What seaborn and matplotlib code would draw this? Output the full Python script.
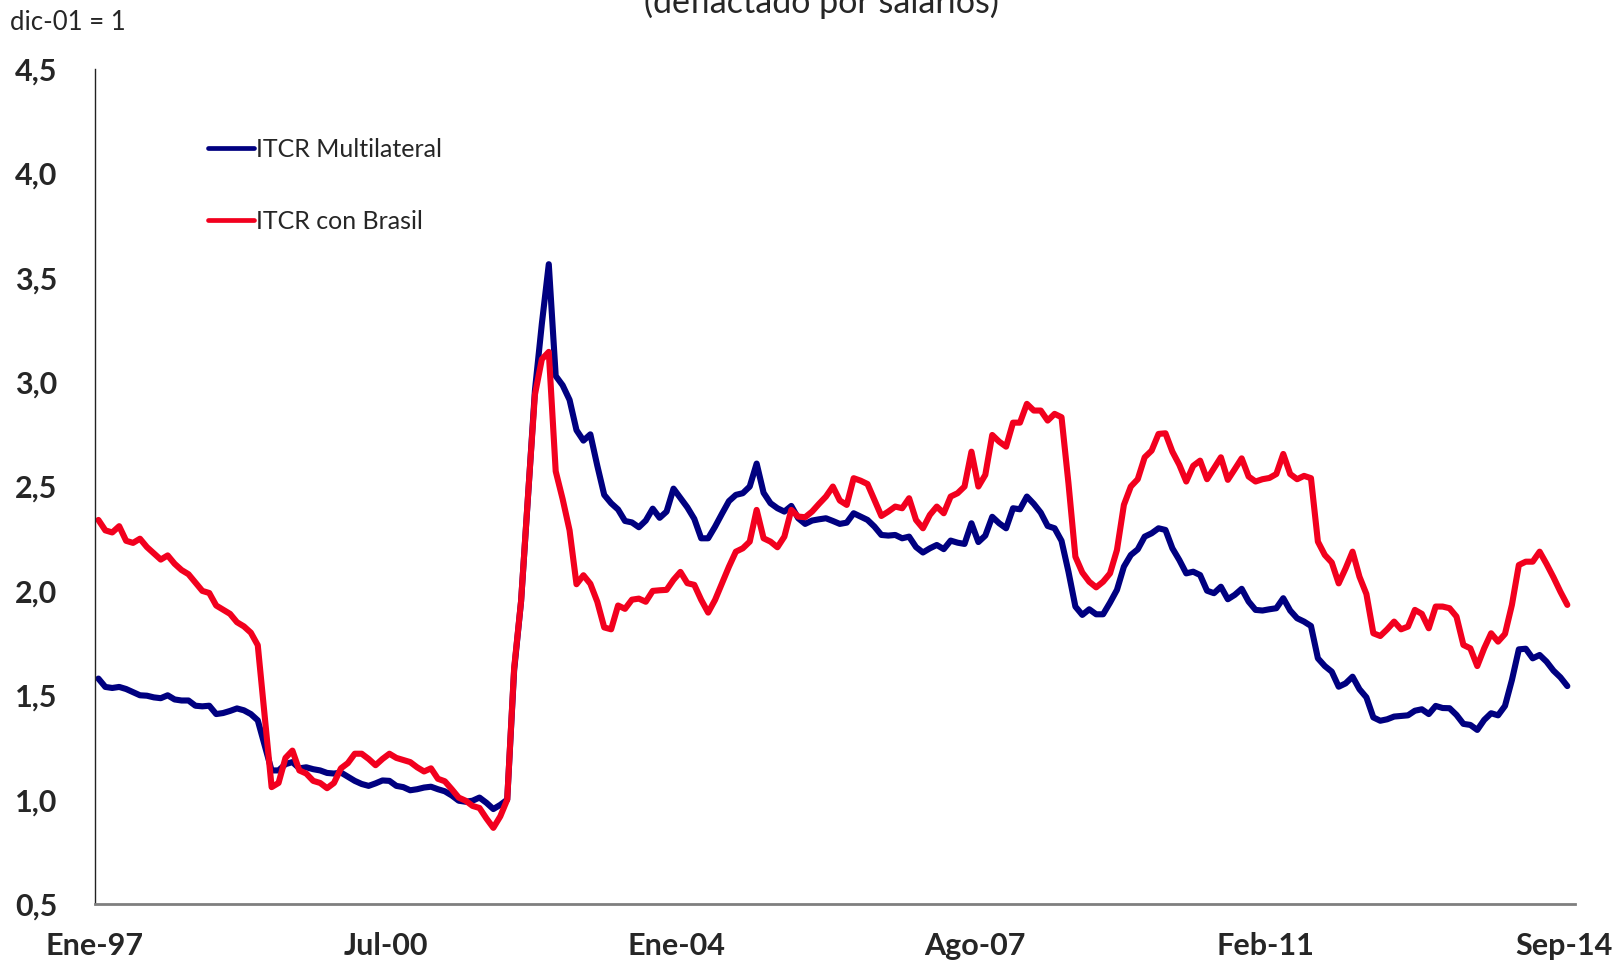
import numpy as np
import pandas as pd
import matplotlib
matplotlib.use("Agg")
import matplotlib.pyplot as plt
import seaborn as sns
from matplotlib.ticker import FuncFormatter

sns.set_style("white")
plt.rcParams["font.family"] = ["Lato", "DejaVu Sans"]

# Monthly values, Jan-97 .. Sep-14 (dic-01 = 1), one row per year
MULTILATERAL = [
    1.58, 1.54, 1.535, 1.54, 1.53, 1.515, 1.50, 1.498, 1.49, 1.486, 1.50, 1.48,
    1.475, 1.475, 1.45, 1.447, 1.45, 1.41, 1.415, 1.425, 1.437, 1.428, 1.41, 1.38,
    1.26, 1.14, 1.14, 1.17, 1.18, 1.15, 1.155, 1.146, 1.14, 1.128, 1.125, 1.13,
    1.11, 1.09, 1.075, 1.066, 1.078, 1.092, 1.09, 1.066, 1.06, 1.045, 1.05, 1.058,
    1.062, 1.05, 1.04, 1.02, 0.995, 0.99, 0.995, 1.01, 0.985, 0.955, 0.975, 1.00,
    1.62, 1.95, 2.45, 2.96, 3.28, 3.565, 3.03, 2.985, 2.915, 2.77, 2.72, 2.75,
    2.60, 2.46, 2.42, 2.39, 2.335, 2.328, 2.305, 2.337, 2.394, 2.35, 2.38, 2.49,
    2.445, 2.40, 2.345, 2.252, 2.252, 2.308, 2.37, 2.43, 2.46, 2.468, 2.50, 2.61,
    2.47, 2.42, 2.396, 2.38, 2.407, 2.348, 2.321, 2.337, 2.343, 2.348, 2.335, 2.321,
    2.327, 2.372, 2.356, 2.34, 2.308, 2.268, 2.265, 2.268, 2.252, 2.26, 2.21, 2.184,
    2.204, 2.22, 2.20, 2.241, 2.231, 2.225, 2.324, 2.234, 2.265, 2.355, 2.324, 2.30,
    2.396, 2.391, 2.452, 2.417, 2.375, 2.311, 2.30, 2.24, 2.092, 1.925, 1.885, 1.912,
    1.888, 1.888, 1.944, 2.005, 2.116, 2.172, 2.199, 2.26, 2.276, 2.30, 2.292, 2.204,
    2.148, 2.084, 2.092, 2.076, 2.001, 1.989, 2.02, 1.96, 1.981, 2.01, 1.949, 1.909,
    1.906, 1.912, 1.917, 1.965, 1.906, 1.869, 1.853, 1.832, 1.677, 1.640, 1.613, 1.541,
    1.557, 1.589, 1.529, 1.490, 1.394, 1.378, 1.385, 1.398, 1.401, 1.404, 1.426, 1.433,
    1.41, 1.449, 1.439, 1.438, 1.406, 1.363, 1.358, 1.334, 1.382, 1.414, 1.404, 1.449,
    1.573, 1.720, 1.723, 1.677, 1.693, 1.661, 1.618, 1.586, 1.544,
]

CON_BRASIL = [
    2.34, 2.29, 2.28, 2.31, 2.24, 2.23, 2.25, 2.21, 2.18, 2.15, 2.17, 2.13,
    2.10, 2.08, 2.04, 2.00, 1.99, 1.93, 1.91, 1.89, 1.85, 1.83, 1.80, 1.74,
    1.40, 1.06, 1.08, 1.20, 1.235, 1.14, 1.125, 1.09, 1.08, 1.055, 1.08, 1.15,
    1.175, 1.22, 1.22, 1.195, 1.165, 1.195, 1.22, 1.20, 1.19, 1.18, 1.155, 1.135,
    1.15, 1.10, 1.088, 1.05, 1.01, 0.995, 0.97, 0.96, 0.91, 0.865, 0.92, 1.00,
    1.63, 1.95, 2.455, 2.94, 3.11, 3.145, 2.573, 2.44, 2.29, 2.032, 2.075, 2.034,
    1.948, 1.825, 1.816, 1.93, 1.914, 1.958, 1.963, 1.948, 2.00, 2.003, 2.005, 2.053,
    2.091, 2.037, 2.029, 1.957, 1.896, 1.957, 2.037, 2.116, 2.188, 2.204, 2.236, 2.388,
    2.252, 2.236, 2.209, 2.26, 2.388, 2.356, 2.353, 2.38, 2.417, 2.452, 2.50, 2.433,
    2.412, 2.54, 2.528, 2.512, 2.436, 2.359, 2.38, 2.404, 2.396, 2.444, 2.34, 2.30,
    2.364, 2.404, 2.372, 2.452, 2.468, 2.50, 2.667, 2.50, 2.556, 2.747, 2.715, 2.691,
    2.806, 2.806, 2.896, 2.864, 2.864, 2.816, 2.848, 2.832, 2.516, 2.164, 2.088, 2.044,
    2.017, 2.044, 2.084, 2.196, 2.412, 2.50, 2.535, 2.64, 2.672, 2.752, 2.755, 2.667,
    2.604, 2.524, 2.599, 2.624, 2.535, 2.588, 2.640, 2.532, 2.583, 2.635, 2.548, 2.524,
    2.535, 2.541, 2.56, 2.656, 2.56, 2.535, 2.551, 2.540, 2.236, 2.172, 2.136, 2.036,
    2.108, 2.188, 2.068, 1.985, 1.797, 1.784, 1.816, 1.853, 1.816, 1.829, 1.909, 1.890,
    1.821, 1.925, 1.925, 1.917, 1.877, 1.741, 1.725, 1.640, 1.725, 1.797, 1.757, 1.794,
    1.933, 2.124, 2.140, 2.140, 2.188, 2.129, 2.065, 1.996, 1.933,
]

SERIES = ["ITCR Multilateral", "ITCR con Brasil"]
COLORS = {"ITCR Multilateral": "#000080", "ITCR con Brasil": "#F2001E"}

TICK_MONTHS = [0, 42, 84, 127, 169, 212]
TICK_LABELS = ["Ene-97", "Jul-00", "Ene-04", "Ago-07", "Feb-11", "Sep-14"]
Y_TICKS = [0.5, 1.0, 1.5, 2.0, 2.5, 3.0, 3.5, 4.0, 4.5]

# long format for seaborn; points sit in the middle of each month slot
mes = np.arange(len(MULTILATERAL)) + 0.5
df = pd.concat([
    pd.DataFrame({"mes": mes, "valor": MULTILATERAL, "serie": SERIES[0]}),
    pd.DataFrame({"mes": mes, "valor": CON_BRASIL, "serie": SERIES[1]}),
])

fig = plt.figure(figsize=(16.2, 9.6), dpi=100)
ax = fig.add_axes([0.0586, 0.0583, 0.9136, 0.8698])

sns.lineplot(data=df, x="mes", y="valor", hue="serie", hue_order=SERIES,
             palette=COLORS, linewidth=4.4, ax=ax)

ax.set_xlim(0, 213.6)
ax.set_ylim(0.5, 4.5)
ax.set_xlabel("")
ax.set_ylabel("")

ax.set_xticks(TICK_MONTHS)
ax.set_xticklabels(TICK_LABELS, fontsize=22, fontweight="bold")
ax.set_yticks(Y_TICKS)
ax.yaxis.set_major_formatter(FuncFormatter(lambda v, p: f"{v:.1f}".replace(".", ",")))
for lab in ax.get_yticklabels():
    lab.set_fontsize(22)
    lab.set_fontweight("bold")

ax.tick_params(axis="x", direction="in", length=10, width=1, color="#404040", pad=20)
ax.tick_params(axis="y", length=0, pad=27)

sns.despine(ax=ax)
ax.spines["left"].set_color("#222222")
ax.spines["left"].set_linewidth(1.0)
ax.spines["bottom"].set_color("#7f7f7f")
ax.spines["bottom"].set_linewidth(2.0)

leg = ax.legend(loc="upper left", bbox_to_anchor=(198 / 1620, 1 - 128 / 960),
                bbox_transform=fig.transFigure, frameon=False, fontsize=18,
                handlelength=1.85, handletextpad=0.05, labelspacing=1.95,
                borderaxespad=0)
for line in leg.get_lines():
    line.set_linewidth(3.4)

fig.text(10 / 1620, 1 - 23 / 960, "dic-01 = 1", ha="left", va="center", fontsize=18.5)
fig.text(821 / 1620, 1 - 12.7 / 960, "(deflactado por salarios)", ha="center",
         va="baseline", fontsize=24.5)

fig.savefig("out.png", dpi=100)
